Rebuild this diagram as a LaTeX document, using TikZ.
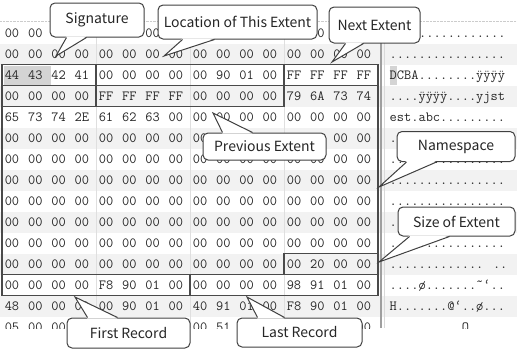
\documentclass[tikz,border=0pt]{standalone}
\usepackage{fontspec}
\usepackage{tikz}
\usetikzlibrary{calc}

\newfontfamily\calloutfont{Noto Sans CJK KR}
\definecolor{boxgray}{HTML}{4A4A4A}
\definecolor{stripe}{HTML}{F2F2F2}
\definecolor{selgray}{HTML}{D4D4D4}

\begin{document}
\begin{tikzpicture}[x=1pt, y=-1pt,
  hexbyte/.style={font=\fontsize{14}{16}\selectfont\ttfamily, text=black!85, inner sep=0pt, anchor=base},
  asciirow/.style={font=\fontsize{14}{16}\selectfont\ttfamily, text=black!85, inner sep=0pt, anchor=base west},
  fieldbox/.style={draw=boxgray, line width=1.6pt},
  callbox/.style={draw=black!75, line width=1pt, fill=white, rounded corners=5pt, inner sep=0pt,
                  font=\calloutfont\fontsize{14}{16}\selectfont, text=black!85},
  callptr/.style={draw=black!75, line width=1pt, line join=miter}
]
\useasboundingbox (0,0) rectangle (517,351);

% ============================================================
% HEX DUMP: stripes, separators, bytes
% ============================================================
\begin{scope}
  \clip (0,21) rectangle (517,328);
  \foreach \r in {1,3,...,13}
    \fill[stripe] (0,22.5+21*\r) rectangle (517,43.5+21*\r);
  \draw[gray!40, densely dotted] (0,21.5) -- (517,21.5);

  % group separators and hex/ascii divider
  \foreach \gx in {96,190,284}
    \draw[gray!25] (\gx,21) -- (\gx,328);
  \draw[gray!75, line width=1.6pt] (381,21) -- (381,328);
  \draw[gray!30] (384.5,21) -- (384.5,328);

  % cursor / selection
  \fill[selgray] (4,65.5) rectangle (51,84.5);
  \fill[selgray] (389.5,65.5) rectangle (397,84.5);

  % row / bytes / first ascii column / ascii text
  \foreach \r/\bytes/\ax/\asc in {
    0/{00,00,00,00,00,00,00,00,00,00,00,00,00,00,00,00}/4/{............},
    1/{00,00,00,00,00,00,00,00,00,00,00,00,00,00,00,00}/0/{................},
    2/{44,43,42,41,00,00,00,00,00,90,01,00,FF,FF,FF,FF}/0/{DCBA........ÿÿÿÿ},
    3/{00,00,00,00,FF,FF,FF,FF,00,00,00,00,79,6A,73,74}/0/{....ÿÿÿÿ....yjst},
    4/{65,73,74,2E,61,62,63,00,00,00,00,00,00,00,00,00}/0/{est.abc.........},
    5/{00,00,00,00,00,00,00,00,00,00,00,00,00,00,00,00}/0/{.},
    6/{00,00,00,00,00,00,00,00,00,00,00,00,00,00,00,00}/0/{................},
    7/{00,00,00,00,00,00,00,00,00,00,00,00,00,00,00,00}/0/{................},
    8/{00,00,00,00,00,00,00,00,00,00,00,00,00,00,00,00}/0/{................},
    9/{00,00,00,00,00,00,00,00,00,00,00,00,00,00,00,00}/0/{.},
    10/{00,00,00,00,00,00,00,00,00,00,00,00,00,00,00,00}/0/{................},
    11/{00,00,00,00,00,00,00,00,00,00,00,00,00,20,00,00}/0/{............. ..},
    12/{00,00,00,00,F8,90,01,00,00,00,00,00,98,91,01,00}/0/{....ø.......˜‘..},
    13/{48,00,00,00,00,90,01,00,40,91,01,00,F8,90,01,00}/0/{H.......@‘..ø...},
    14/{05,00,00,00,00,00,00,00,00,51,00,00,00,00,00,00}/0/{..........Q.....}} {
    \foreach \b [count=\c from 0] in \bytes {
      % bytes that lie fully under a callout are left out
      \pgfmathtruncatemacro{\hide}{(\r==0 && ((\c>=2 && \c<=5) || (\c>=7 && \c<=12) || \c>=14))
        || (\r==5 && \c>=9 && \c<=13) || (\r==14 && ((\c>=3 && \c<=7) || (\c>=10 && \c<=14)))}
      \ifnum\hide=0
        \pgfmathsetmacro{\hx}{12+94*floor(\c/4)+23.3*mod(\c,4)}
        \node[hexbyte] (h-\r-\c) at (\hx,37.3+21*\r) {\b};
      \fi
    }
    \node[asciirow] (a-\r) at (389.5+7.35*\ax,37.3+21*\r) {\asc};
  }
\end{scope}

% ============================================================
% FIELD BOXES
% ============================================================
\draw[fieldbox] (2,64.5) rectangle (96,85.5);     % signature
\draw[fieldbox] (96,64.5) rectangle (284,85.5);   % location of this extent
\draw[fieldbox] (284,64.5) rectangle (378,85.5);  % next extent (1/2)
\draw[fieldbox] (2,85.5) rectangle (96,106.5);    % next extent (2/2)
\draw[fieldbox] (96,85.5) rectangle (284,106.5);  % previous extent
% namespace
\draw[fieldbox] (284,85.5) -- (378,85.5) -- (378,253.5) -- (284,253.5) -- (284,274.5)
  -- (2,274.5) -- (2,106.5) -- (284,106.5) -- cycle;
\draw[fieldbox] (284,253.5) rectangle (378,274.5); % size of extent
\draw[fieldbox] (2,274.5) rectangle (190,295.5);   % first record
\draw[fieldbox] (190,274.5) rectangle (378,295.5); % last record

% ============================================================
% CALLOUTS
% ============================================================
\node[callbox, minimum width=94pt, minimum height=34pt] (sig) at (97,20) {Signature};
\node[callbox, minimum width=159pt, minimum height=34pt] (loc) at (237.5,22) {Location of This Extent};
\node[callbox, minimum width=91pt, minimum height=36pt] (next) at (374.5,25) {Next Extent};
\node[callbox, minimum width=123pt, minimum height=27pt] (prev) at (264.5,146.5) {Previous Extent};
\node[callbox, minimum width=118pt, minimum height=30pt] (ns) at (456,146.5) {Namespace};
\node[callbox, minimum width=117pt, minimum height=29pt] (size) at (456.5,221.5) {Size of Extent};
\node[callbox, minimum width=123pt, minimum height=30pt] (first) at (128.5,333) {First Record};
\node[callbox, minimum width=125pt, minimum height=29pt] (last) at (299.5,332.5) {Last Record};

% pointer tips
\coordinate (sigtip) at (56,56);
\coordinate (loctip) at (164,56);
\coordinate (nexttip) at (332,62);
\coordinate (prevtip) at (213,113);
\coordinate (nstip) at (379,187);
\coordinate (sizetip) at (379,262);
\coordinate (firsttip) at (75,297);
\coordinate (lasttip) at (247,297);

% pointers from the bottom edge
\fill[white] ($(sig.south west)+(17,-1.2)$) -- (sigtip) -- ($(sig.south west)+(37,-1.2)$) -- cycle;
\draw[callptr] ($(sig.south west)+(17,0)$) -- (sigtip) -- ($(sig.south west)+(37,0)$);
\fill[white] ($(loc.south west)+(25,-1.2)$) -- (loctip) -- ($(loc.south west)+(57,-1.2)$) -- cycle;
\draw[callptr] ($(loc.south west)+(25,0)$) -- (loctip) -- ($(loc.south west)+(57,0)$);
\fill[white] ($(next.south west)+(17,-1.2)$) -- (nexttip) -- ($(next.south west)+(35,-1.2)$) -- cycle;
\draw[callptr] ($(next.south west)+(17,0)$) -- (nexttip) -- ($(next.south west)+(35,0)$);
\fill[white] ($(ns.south west)+(10,-1.2)$) -- (nstip) -- ($(ns.south west)+(40,-1.2)$) -- cycle;
\draw[callptr] ($(ns.south west)+(10,0)$) -- (nstip) -- ($(ns.south west)+(40,0)$);
\fill[white] ($(size.south west)+(12,-1.2)$) -- (sizetip) -- ($(size.south west)+(52,-1.2)$) -- cycle;
\draw[callptr] ($(size.south west)+(12,0)$) -- (sizetip) -- ($(size.south west)+(52,0)$);

% pointers from the top edge
\fill[white] ($(prev.north west)+(20,1.2)$) -- (prevtip) -- ($(prev.north west)+(50,1.2)$) -- cycle;
\draw[callptr] ($(prev.north west)+(20,0)$) -- (prevtip) -- ($(prev.north west)+(50,0)$);
\fill[white] ($(first.north west)+(21,1.2)$) -- (firsttip) -- ($(first.north west)+(51,1.2)$) -- cycle;
\draw[callptr] ($(first.north west)+(21,0)$) -- (firsttip) -- ($(first.north west)+(51,0)$);
\fill[white] ($(last.north west)+(21,1.2)$) -- (lasttip) -- ($(last.north west)+(48,1.2)$) -- cycle;
\draw[callptr] ($(last.north west)+(21,0)$) -- (lasttip) -- ($(last.north west)+(48,0)$);

\end{tikzpicture}
\end{document}
